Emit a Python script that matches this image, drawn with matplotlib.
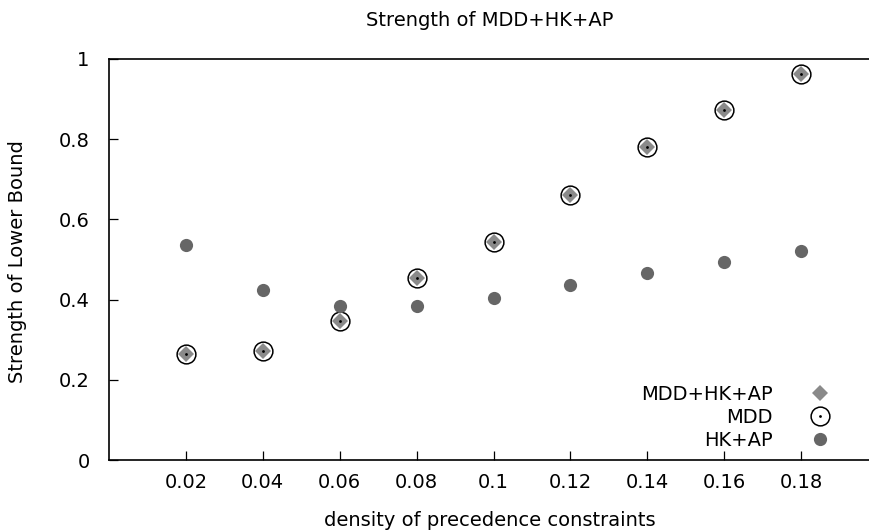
import matplotlib
matplotlib.use("Agg")
import matplotlib.pyplot as plt

density = [0.02, 0.04, 0.06, 0.08, 0.10, 0.12, 0.14, 0.16, 0.18]
mdd_hk_ap = [0.265, 0.271, 0.347, 0.455, 0.544, 0.660, 0.780, 0.874, 0.962]
mdd = [0.265, 0.271, 0.347, 0.455, 0.544, 0.660, 0.780, 0.874, 0.962]
hk_ap = [0.535, 0.425, 0.383, 0.383, 0.403, 0.437, 0.467, 0.495, 0.522]

x_ticks = [0.02, 0.04, 0.06, 0.08, 0.10, 0.12, 0.14, 0.16, 0.18]
x_tick_labels = ["0.02", "0.04", "0.06", "0.08", "0.1", "0.12", "0.14", "0.16", "0.18"]
y_ticks = [0, 0.2, 0.4, 0.6, 0.8, 1.0]
y_tick_labels = ["0", "0.2", "0.4", "0.6", "0.8", "1"]

plt.rcParams['font.family'] = ['DejaVu Sans']
FS = 14

W, H = 869, 531
fig = plt.figure(figsize=(W / 100, H / 100), dpi=100)
left, right, top, bottom = 109, 878, 59, 460
ax = fig.add_axes([left / W, (H - bottom) / H, (right - left) / W, (bottom - top) / H])

ax.set_xlim(0, 0.2)
ax.set_ylim(0, 1)

d1, = ax.plot(density, mdd_hk_ap, linestyle='none', marker='D', markersize=8,
              color='#8a8a8a', markeredgewidth=0, label='MDD+HK+AP')
c1, = ax.plot(density, mdd, linestyle='none', marker='o', markersize=13.5,
              markerfacecolor='none', markeredgecolor='black', markeredgewidth=1.1)
c2, = ax.plot(density, mdd, linestyle='none', marker='o', markersize=2,
              color='black', markeredgewidth=0)
h1, = ax.plot(density, hk_ap, linestyle='none', marker='o', markersize=9.5,
              color='#666666', markeredgewidth=0, label='HK+AP')

ax.set_xticks(x_ticks)
ax.set_xticklabels(x_tick_labels, fontsize=FS)
ax.set_yticks(y_ticks)
ax.set_yticklabels(y_tick_labels, fontsize=FS)
ax.tick_params(direction='in', length=6.5, width=0.9, top=False, right=False,
               pad=9)
ax.tick_params(axis='y', pad=14)
for s in ax.spines.values():
    s.set_linewidth(1.2)

leg = ax.legend([d1, (c1, c2), h1], ['MDD+HK+AP', 'MDD', 'HK+AP'],
                loc='lower right', bbox_to_anchor=(0.950, 0.025),
                markerfirst=False, frameon=False, fontsize=FS,
                handlelength=2.0, handletextpad=1.46, labelspacing=0.2,
                borderpad=0, borderaxespad=0)

fig.text(490 / W, 1 - 20 / H, 'Strength of MDD+HK+AP', ha='center', va='center', fontsize=FS)
fig.text(490 / W, 1 - 520 / H, 'density of precedence constraints', ha='center', va='center', fontsize=FS)
fig.text(18 / W, 1 - 262 / H, 'Strength of Lower Bound', ha='center', va='center',
         rotation=90, fontsize=FS)

fig.savefig('out.png', dpi=100)
